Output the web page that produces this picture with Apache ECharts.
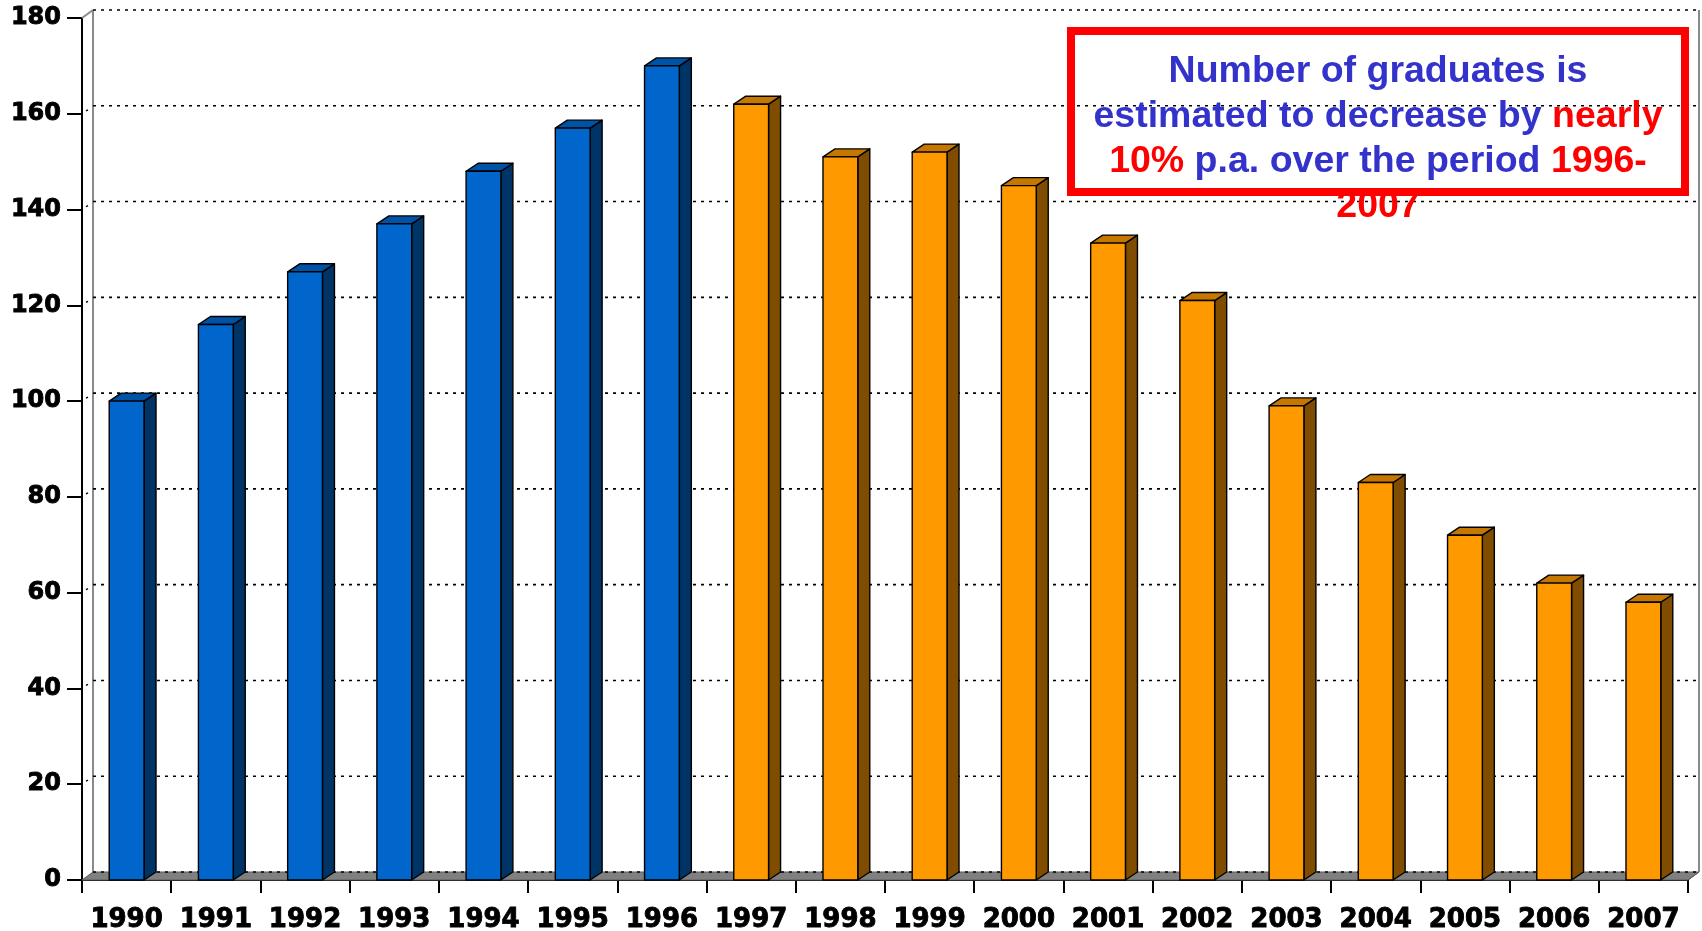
<!DOCTYPE html>
<html>
<head>
<meta charset="utf-8">
<script src="https://cdn.jsdelivr.net/npm/echarts/dist/echarts.min.js"></script>
<style>
  html, body { margin: 0; padding: 0; background: #ffffff; }
  #chart { width: 1702px; height: 931px; }
</style>
</head>
<body>
<div id="chart"></div>
<script>
// Graduates per year; 1990-1996 are actual, 1997-2007 are estimates
const years = ['1990', '1991', '1992', '1993', '1994', '1995', '1996', '1997', '1998',
               '1999', '2000', '2001', '2002', '2003', '2004', '2005', '2006', '2007'];
const graduates = [100, 116, 127, 137, 148, 157, 170, 162, 151,
                   152, 145, 133, 121, 99, 83, 72, 62, 58];
const lastActualYear = '1996';
const valueTicks = [0, 20, 40, 60, 80, 100, 120, 140, 160, 180];

// pseudo-3D depth of the bars and of the back wall
const BAR_DX = 12, BAR_DY = -8;
const WALL_DX = 11, WALL_DY = -8;

const palette = {
  actual:   { front: '#0066CC', top: '#0052A6', side: '#003366' },
  forecast: { front: '#FF9900', top: '#C67700', side: '#7F4C00' }
};

function renderWall(params, api) {
  const cs = params.coordSys;
  const v = api.value(1);
  const y = api.coord([0, v])[1];
  const left = cs.x, right = cs.x + cs.width;
  const top = cs.y, bottom = cs.y + cs.height;
  const children = [];
  if (params.dataIndex === 0) {
    // floor
    children.push({
      type: 'polygon',
      shape: { points: [[left, bottom], [left + WALL_DX, bottom + WALL_DY],
                        [right + WALL_DX, bottom + WALL_DY], [right, bottom]] },
      style: { fill: '#808080', stroke: '#5a5a5a', lineWidth: 1 }
    });
    // wall edges
    const edge = { stroke: '#8a8a8a', lineWidth: 2 };
    children.push({ type: 'line', shape: { x1: left + WALL_DX, y1: top + WALL_DY, x2: left + WALL_DX, y2: bottom + WALL_DY }, style: edge });
    children.push({ type: 'line', shape: { x1: left, y1: top, x2: left + WALL_DX, y2: top + WALL_DY }, style: edge });
    children.push({ type: 'line', shape: { x1: right + WALL_DX, y1: top + WALL_DY, x2: right + WALL_DX, y2: bottom + WALL_DY }, style: edge });
    children.push({ type: 'line', shape: { x1: right, y1: bottom, x2: right + WALL_DX, y2: bottom + WALL_DY }, style: { stroke: '#5a5a5a', lineWidth: 1 } });
  }
  // dotted gridline on the back wall
  children.push({
    type: 'line',
    shape: { x1: left + WALL_DX, y1: y + WALL_DY, x2: right + WALL_DX, y2: y + WALL_DY },
    style: { stroke: '#000', lineWidth: 1.6, lineDash: [3, 5] }
  });
  if (v > 0 && v < valueTicks[valueTicks.length - 1]) {
    children.push({
      type: 'line',
      shape: { x1: left + 4, y1: y - 3, x2: left + 6, y2: y - 4 },
      style: { stroke: '#000', lineWidth: 1.4 }
    });
  }
  return { type: 'group', children: children };
}

function renderBar(params, api) {
  const i = api.value(0), v = api.value(1);
  const topPt = api.coord([i, v]);
  const basePt = api.coord([i, 0]);
  const w = api.size([1, 0])[0] * 0.39;
  const x0 = topPt[0] - w / 2, x1 = topPt[0] + w / 2;
  const yT = topPt[1], yB = basePt[1];
  const c = years[i] <= lastActualYear ? palette.actual : palette.forecast;
  const outline = { stroke: '#000', lineWidth: 1.4, lineJoin: 'round' };
  return {
    type: 'group',
    children: [
      { type: 'polygon',
        shape: { points: [[x1, yB], [x1 + BAR_DX, yB + BAR_DY], [x1 + BAR_DX, yT + BAR_DY], [x1, yT]] },
        style: Object.assign({ fill: c.side }, outline) },
      { type: 'polygon',
        shape: { points: [[x0, yT], [x1, yT], [x1 + BAR_DX, yT + BAR_DY], [x0 + BAR_DX, yT + BAR_DY]] },
        style: Object.assign({ fill: c.top }, outline) },
      { type: 'rect',
        shape: { x: x0, y: yT, width: w, height: yB - yT },
        style: Object.assign({ fill: c.front }, outline) }
    ]
  };
}

const chart = echarts.init(document.getElementById('chart'), null, { renderer: 'canvas' });

const axisFont = {
  fontFamily: 'DejaVu Sans', fontWeight: 'bold', color: '#000',
  textBorderColor: '#000', textBorderWidth: 0.9
};

chart.setOption({
  animation: false,
  backgroundColor: '#ffffff',
  grid: { left: 82, right: 14, top: 18, bottom: 51, containLabel: false, outerBoundsMode: 'none' },
  xAxis: {
    type: 'category',
    data: years,
    axisLine: { lineStyle: { color: '#000', width: 2 } },
    axisTick: { show: true, length: 13, lineStyle: { color: '#000', width: 2 } },
    axisLabel: Object.assign({ margin: 27, interval: 0, fontSize: 26 }, axisFont),
    splitLine: { show: false }
  },
  yAxis: {
    type: 'value',
    min: 0, max: 180, interval: 20,
    axisLine: { show: true, lineStyle: { color: '#000', width: 2 } },
    axisTick: { show: true, length: 15, lineStyle: { color: '#000', width: 2 } },
    axisLabel: Object.assign({ margin: 21, fontSize: 24 }, axisFont),
    splitLine: { show: false }
  },
  series: [
    {
      type: 'custom',
      z: 1,
      clip: false,
      renderItem: renderWall,
      data: valueTicks.map(v => [0, v]),
      silent: true
    },
    {
      type: 'custom',
      z: 2,
      clip: false,
      renderItem: renderBar,
      data: graduates.map((v, i) => [i, v])
    }
  ],
  graphic: [
    {
      type: 'rect',
      z: 10,
      shape: { x: 1071, y: 31, width: 614, height: 161 },
      style: { fill: 'rgba(0,0,0,0)', stroke: '#FF0000', lineWidth: 8 }
    },
    {
      type: 'text',
      z: 11,
      x: 1378, y: 49,
      style: {
        text: '{b|Number of graduates is}\n' +
              '{b|estimated to decrease by }{r|nearly}\n' +
              '{r|10%}{b| p.a. over the period }{r|1996-}\n' +
              '{r|2007}',
        align: 'center',
        verticalAlign: 'top',
        rich: {
          b: { fontFamily: 'Liberation Sans', fontWeight: 'bold', fontSize: 37.5, lineHeight: 45,
               fill: '#3333CC', textStroke: '#3333CC', textStrokeWidth: 0.6 },
          r: { fontFamily: 'Liberation Sans', fontWeight: 'bold', fontSize: 37.5, lineHeight: 45,
               fill: '#FF0000' }
        }
      }
    }
  ]
});
</script>
</body>
</html>
